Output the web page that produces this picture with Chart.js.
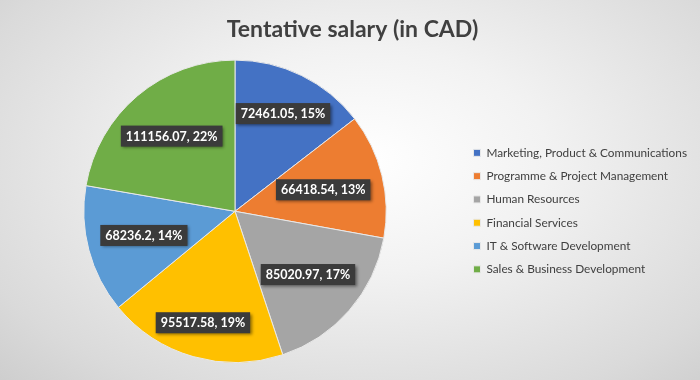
<!DOCTYPE html>
<html>
<head>
<meta charset="utf-8">
<script src="https://cdn.jsdelivr.net/npm/chart.js@4.4.1/dist/chart.umd.min.js"></script>
<style>
  html, body { margin: 0; padding: 0; }
  #wrap {
    width: 700px; height: 380px; position: relative;
    background: radial-gradient(ellipse 75% 85% at 52% 42%, #ffffff 0%, #f2f2f2 35%, #dadada 80%, #cccccc 100%);
  }
</style>
</head>
<body>
<div id="wrap"><canvas id="salaryChart" width="700" height="380"></canvas></div>
<script>
// Departments and their tentative salary (CAD)
const departments = [
    'Marketing, Product & Communications',
    'Programme & Project Management',
    'Human Resources',
    'Financial Services',
    'IT & Software Development',
    'Sales & Business Development'
];
const salaries = [72461.05, 66418.54, 85020.97, 95517.58, 68236.2, 111156.07];
const sliceColors = ['#4472C4', '#ED7D31', '#A5A5A5', '#FFC000', '#5B9BD5', '#70AD47'];

const FONT = 'Lato, Calibri, "Open Sans", sans-serif';

// Excel-style dark data label boxes: "value, pct%"
const labelBoxes = {
    id: 'labelBoxes',
    afterDatasetsDraw(chart) {
        const ctx = chart.ctx;
        const meta = chart.getDatasetMeta(0);
        const total = salaries.reduce((a, b) => a + b, 0);
        ctx.save();
        ctx.font = 'bold 12.5px ' + FONT;
        meta.data.forEach((arc, i) => {
            const pct = Math.round(salaries[i] / total * 100);
            const text = salaries[i] + ', ' + pct + '%';
            const tw = ctx.measureText(text).width;
            const hw = tw / 2 + 5, hh = 10.5;
            const mid = (arc.startAngle + arc.endAngle) / 2;
            const dx = Math.cos(mid), dy = Math.sin(mid);
            // place the box so its outer edge sits near the rim
            const dist = arc.outerRadius * 0.92 - (hw * Math.abs(dx) + hh * Math.abs(dy));
            const cx = arc.x + dx * dist, cy = arc.y + dy * dist;
            ctx.shadowColor = 'rgba(0,0,0,0.45)';
            ctx.shadowBlur = 3;
            ctx.shadowOffsetX = 1.5;
            ctx.shadowOffsetY = 1.5;
            ctx.fillStyle = '#3b3b3b';
            ctx.fillRect(cx - hw, cy - hh, hw * 2, hh * 2);
            ctx.shadowColor = 'transparent';
            ctx.fillStyle = '#ffffff';
            ctx.textAlign = 'center';
            ctx.textBaseline = 'middle';
            ctx.fillText(text, cx, cy + 0.5);
        });
        ctx.restore();
    }
};

const ctx = document.getElementById('salaryChart').getContext('2d');
new Chart(ctx, {
    type: 'pie',
    data: {
        labels: departments,
        datasets: [{
            data: salaries,
            backgroundColor: sliceColors,
            borderColor: '#e8e8e8',
            borderWidth: 1
        }]
    },
    options: {
        responsive: false,
        animation: false,
        layout: { padding: { top: 0, bottom: 17, left: 8, right: 3 } },
        plugins: {
            title: {
                display: true,
                text: 'Tentative salary (in CAD)',
                color: '#404040',
                font: { family: FONT, size: 23, weight: 'bold' },
                padding: { top: 16, bottom: 16 }
            },
            legend: {
                position: 'right',
                // empty title only used to push the items down
                title: { display: true, text: '', font: { size: 1 }, padding: { top: 0, bottom: 58 } },
                labels: {
                    boxWidth: 7,
                    boxHeight: 7,
                    padding: 11.5,
                    color: '#404040',
                    font: { family: FONT, size: 11.8 }
                }
            },
            tooltip: { enabled: false }
        }
    },
    plugins: [labelBoxes]
});
</script>
</body>
</html>
